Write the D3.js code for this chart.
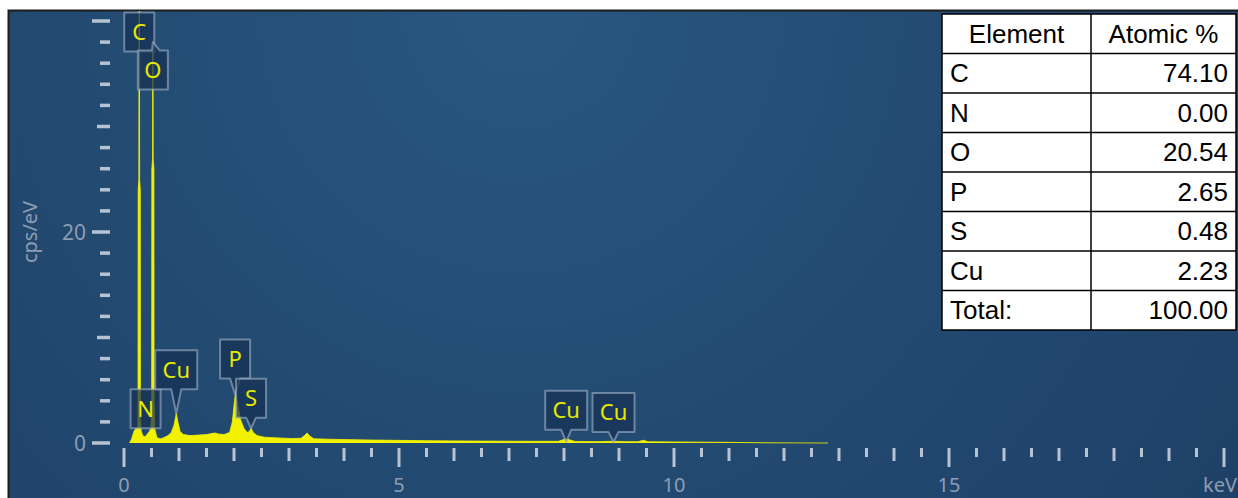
<!DOCTYPE html>
<html>
<head>
<meta charset="utf-8">
<script src="https://cdn.jsdelivr.net/npm/d3@7"></script>
<style>
  body { margin: 0; background: #fff; }
  svg { display: block; }
</style>
</head>
<body>
<div id="chart"></div>
<script>
// EDS spectrum: [keV, cps/eV]
var spectrum = [
  [0.10, 0], [0.14, 0.4], [0.18, 1.1], [0.22, 1.4], [0.25, 1.5], [0.255, 4],
  [0.258, 24], [0.270, 25], [0.273, 40], [0.277, 46], [0.281, 40], [0.284, 25],
  [0.296, 24], [0.299, 3], [0.31, 1.2], [0.34, 0.7], [0.38, 0.6], [0.42, 0.8],
  [0.46, 1.1], [0.49, 1.4], [0.503, 4], [0.506, 26], [0.520, 27], [0.522, 36],
  [0.525, 37.6], [0.528, 36], [0.530, 27], [0.544, 26], [0.547, 4], [0.56, 1.3],
  [0.60, 0.5], [0.66, 0.4], [0.72, 0.5], [0.80, 0.7], [0.86, 1.0], [0.91, 1.7],
  [0.95, 2.8], [0.98, 2.0], [1.02, 1.1], [1.08, 0.8], [1.2, 0.7], [1.35, 0.75],
  [1.5, 0.8], [1.6, 0.9], [1.65, 0.95], [1.72, 0.85], [1.82, 0.8], [1.92, 1.0],
  [1.97, 2.0], [2.01, 4.0], [2.03, 4.8], [2.07, 3.6], [2.12, 2.2], [2.18, 1.4],
  [2.24, 1.0], [2.28, 1.1], [2.31, 1.4], [2.35, 1.0], [2.42, 0.7], [2.55, 0.55],
  [2.8, 0.48], [3.05, 0.42], [3.22, 0.45], [3.28, 0.7], [3.33, 0.95], [3.38, 0.65],
  [3.45, 0.4], [3.7, 0.36], [4.0, 0.32], [4.5, 0.28], [5.0, 0.25], [5.5, 0.22],
  [6.0, 0.2], [6.5, 0.18], [7.0, 0.17], [7.5, 0.16], [7.9, 0.16], [7.98, 0.3],
  [8.04, 0.42], [8.1, 0.3], [8.2, 0.15], [8.6, 0.13], [8.9, 0.16], [9.1, 0.13],
  [9.35, 0.13], [9.44, 0.26], [9.53, 0.12], [10.0, 0.1], [10.5, 0.08],
  [11.0, 0.06], [11.3, 0.04], [11.6, 0.02], [12.2, 0.01], [12.8, 0]
];

// peak markers
var peakNames = ["C", "O", "N", "Cu", "P", "S", "Cu", "Cu"];
var peakEnergy = [0.277, 0.525, 0.392, 0.95, 2.02, 2.31, 8.04, 8.9];
var peakBoxTop = [40.8, 37.2, 5.1, 8.8, 9.8, 6.1, 4.95, 4.75];   // cps/eV at box top
var peakTip = [null, 38.0, null, 2.8, 4.6, 1.4, 0.1, 0.1];         // cps/eV at pointer tip

// quantification table
var tableHeader = ["Element", "Atomic %"];
var elements = ["C", "N", "O", "P", "S", "Cu", "Total:"];
var atomicPct = ["74.10", "0.00", "20.54", "2.65", "0.48", "2.23", "100.00"];

var xTickStep = 0.5;
var yTickStep = 2;

function init() {
  var w = 1238;
  var h = 498;

  var xScale = d3.scaleLinear().domain([0, 20]).range([124, 1224]);
  var yScale = d3.scaleLinear().domain([0, 40]).range([443, 21]);

  var svg = d3.select("#chart").append("svg")
    .attr("width", w)
    .attr("height", h);

  var defs = svg.append("defs");
  var grad = defs.append("radialGradient")
    .attr("id", "bg")
    .attr("gradientUnits", "userSpaceOnUse")
    .attr("cx", 520).attr("cy", 10).attr("r", 900);
  grad.append("stop").attr("offset", "0%").attr("stop-color", "#28577f");
  grad.append("stop").attr("offset", "60%").attr("stop-color", "#22486f");
  grad.append("stop").attr("offset", "100%").attr("stop-color", "#1e4067");

  defs.append("clipPath").attr("id", "plotClip")
    .append("rect").attr("x", 9).attr("y", 11).attr("width", w - 9).attr("height", h - 11);

  // panel
  svg.append("rect")
    .attr("x", 8.5).attr("y", 10.5)
    .attr("width", w).attr("height", h)
    .attr("fill", "url(#bg)")
    .attr("stroke", "#1c1c1c")
    .attr("stroke-width", 2);

  var tickColor = "#b7c3d2";
  var labelColor = "#8d9db3";
  var font = "'Noto Sans', 'Open Sans', sans-serif";

  // x axis ticks
  var xTicks = d3.range(0, 20 + 1e-9, xTickStep);
  svg.append("g").selectAll("line")
    .data(xTicks)
    .enter().append("line")
    .attr("x1", function(d) { return xScale(d); })
    .attr("x2", function(d) { return xScale(d); })
    .attr("y1", 448)
    .attr("y2", function(d) {
      if (d % 5 === 0) return 467;
      if (d % 1 === 0) return 461;
      return 457;
    })
    .attr("stroke", tickColor)
    .attr("stroke-width", 3);

  svg.append("g").selectAll("text")
    .data([0, 5, 10, 15])
    .enter().append("text")
    .attr("x", function(d) { return xScale(d); })
    .attr("y", 492)
    .attr("text-anchor", "middle")
    .attr("fill", labelColor)
    .attr("font-family", font)
    .attr("font-size", "20px")
    .text(function(d) { return d; });

  svg.append("text")
    .attr("x", 1237)
    .attr("y", 492)
    .attr("text-anchor", "end")
    .attr("fill", labelColor)
    .attr("font-family", font)
    .attr("font-size", "20px")
    .text("keV");

  // y axis ticks
  var yTicks = d3.range(0, 40 + 1e-9, yTickStep);
  svg.append("g").selectAll("line")
    .data(yTicks)
    .enter().append("line")
    .attr("x1", function(d) {
      if (d % 20 === 0) return 92;
      if (d % 10 === 0) return 97;
      return 100;
    })
    .attr("x2", 110)
    .attr("y1", function(d) { return yScale(d); })
    .attr("y2", function(d) { return yScale(d); })
    .attr("stroke", tickColor)
    .attr("stroke-width", 3.5);

  svg.append("g").selectAll("text")
    .data([0, 20])
    .enter().append("text")
    .attr("x", 86)
    .attr("y", function(d) { return yScale(d) + 8; })
    .attr("text-anchor", "end")
    .attr("fill", labelColor)
    .attr("font-family", font)
    .attr("font-size", "21px")
    .text(function(d) { return d; });

  svg.append("text")
    .attr("transform", "rotate(-90)")
    .attr("x", -232)
    .attr("y", 37)
    .attr("text-anchor", "middle")
    .attr("fill", labelColor)
    .attr("font-family", font)
    .attr("font-size", "20px")
    .text("cps/eV");

  // spectrum
  var area = d3.area()
    .x(function(d) { return xScale(d[0]); })
    .y0(yScale(0))
    .y1(function(d) { return yScale(d[1]); });

  var line = d3.line()
    .x(function(d) { return xScale(d[0]); })
    .y(function(d) { return yScale(d[1]); });

  var plot = svg.append("g").attr("clip-path", "url(#plotClip)");
  plot.append("path")
    .datum(spectrum)
    .attr("d", area)
    .attr("fill", "#f2f200");
  plot.append("path")
    .datum(spectrum)
    .attr("d", line)
    .attr("fill", "none")
    .attr("stroke", "#f2f200")
    .attr("stroke-opacity", 0.8)
    .attr("stroke-width", 1);

  // peak callouts
  var callouts = plot.append("g");
  peakNames.forEach(function(name, i) {
    var cx = xScale(peakEnergy[i]);
    var bw = name.length > 1 ? 42 : 30;
    var bh = 39;
    var top = yScale(peakBoxTop[i]);
    var left = cx - bw / 2;
    var right = cx + bw / 2;
    var bottom = top + bh;
    var p = d3.path();
    var tip = peakTip[i];
    if (tip !== null && yScale(tip) > bottom) {
      p.moveTo(left, top);
      p.lineTo(right, top);
      p.lineTo(right, bottom);
      p.lineTo(cx + 5, bottom);
      p.lineTo(cx, yScale(tip));
      p.lineTo(cx - 5, bottom);
      p.lineTo(left, bottom);
      p.closePath();
    } else if (tip !== null && yScale(tip) < top) {
      p.moveTo(left, top);
      p.lineTo(cx - 1, top);
      p.lineTo(cx, yScale(tip));
      p.lineTo(cx + 7, top);
      p.lineTo(right, top);
      p.lineTo(right, bottom);
      p.lineTo(left, bottom);
      p.closePath();
    } else {
      p.rect(left, top, bw, bh);
    }
    callouts.append("path")
      .attr("d", p.toString())
      .attr("fill", "rgba(22, 48, 82, 0.72)")
      .attr("stroke", "rgba(160, 178, 200, 0.6)")
      .attr("stroke-width", 2)
      .attr("stroke-linejoin", "round");
    callouts.append("text")
      .attr("x", cx)
      .attr("y", top + bh / 2 + 8)
      .attr("text-anchor", "middle")
      .attr("fill", "#e8e800")
      .attr("font-family", font)
      .attr("font-size", "22px")
      .text(name);
  });

  // quantification table
  var tx = 942, tw = 294, col = 1091, ty = 14, rh = 39.5;
  var table = svg.append("g");
  var rows = [tableHeader].concat(elements.map(function(e, i) { return [e, atomicPct[i]]; }));

  table.append("rect")
    .attr("x", tx).attr("y", ty)
    .attr("width", tw).attr("height", rh * rows.length)
    .attr("fill", "#fff")
    .attr("stroke", "#000")
    .attr("stroke-width", 1.5);

  table.selectAll(".hline")
    .data(d3.range(1, rows.length))
    .enter().append("line")
    .attr("x1", tx).attr("x2", tx + tw)
    .attr("y1", function(d) { return ty + d * rh; })
    .attr("y2", function(d) { return ty + d * rh; })
    .attr("stroke", "#000")
    .attr("stroke-width", 1.5);

  table.append("line")
    .attr("x1", col).attr("x2", col)
    .attr("y1", ty).attr("y2", ty + rh * rows.length)
    .attr("stroke", "#000")
    .attr("stroke-width", 1.5);

  var tfont = "'Liberation Sans', Arial, sans-serif";
  rows.forEach(function(r, i) {
    var y = ty + i * rh + rh / 2 + 9;
    table.append("text")
      .attr("x", i === 0 ? (tx + col) / 2 : tx + 8)
      .attr("y", y)
      .attr("text-anchor", i === 0 ? "middle" : "start")
      .attr("font-family", tfont)
      .attr("font-size", "26px")
      .attr("fill", "#000")
      .text(r[0]);
    table.append("text")
      .attr("x", i === 0 ? (col + tx + tw) / 2 : tx + tw - 8)
      .attr("y", y)
      .attr("text-anchor", i === 0 ? "middle" : "end")
      .attr("font-family", tfont)
      .attr("font-size", "26px")
      .attr("fill", "#000")
      .text(r[1]);
  });
}

window.onload = init;
</script>
</body>
</html>
